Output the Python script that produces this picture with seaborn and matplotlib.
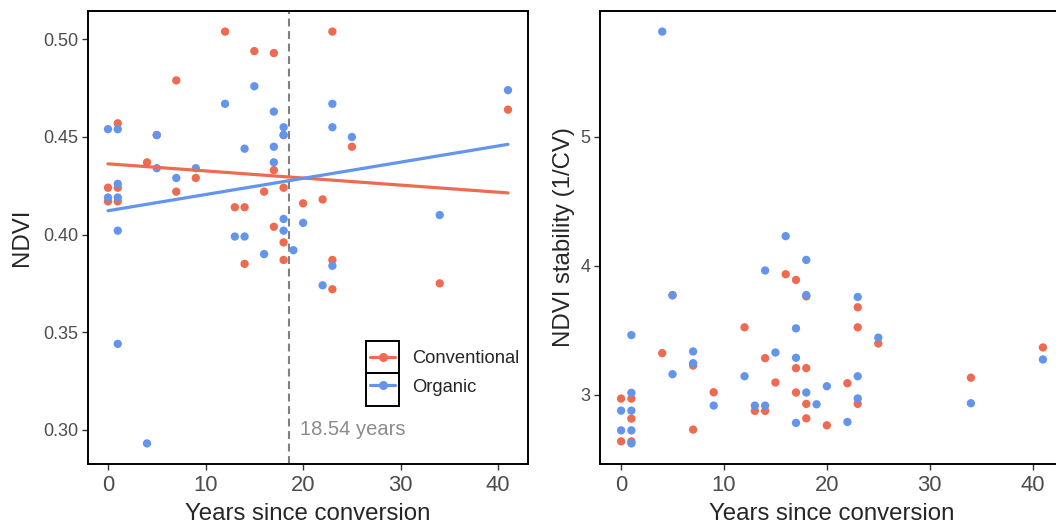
import pandas as pd
import matplotlib
matplotlib.use("Agg")
import matplotlib.pyplot as plt
from matplotlib.lines import Line2D
from matplotlib.patches import Rectangle
import seaborn as sns

GROUPS = ["Conventional", "Organic"]
PALETTE = {"Conventional": "#EE6A50", "Organic": "#6495ED"}
BREAKPOINT = 18.54

# NDVI (left panel)
conv_years = [0, 0, 1, 1, 1, 4, 5, 7, 7, 9, 12, 13, 14, 14, 15, 16, 17, 17, 17,
              18, 18, 18, 18, 20, 22, 23, 23, 23, 25, 34, 41]
conv_ndvi = [0.424, 0.417, 0.457, 0.424, 0.417, 0.437, 0.451, 0.479, 0.422, 0.429,
             0.504, 0.414, 0.414, 0.385, 0.494, 0.422, 0.493, 0.433, 0.404, 0.451,
             0.424, 0.396, 0.387, 0.416, 0.418, 0.504, 0.387, 0.372, 0.445, 0.375, 0.464]
org_years = [0, 0, 1, 1, 1, 1, 1, 4, 5, 5, 7, 9, 12, 13, 14, 14, 15, 16, 17, 17, 17,
             18, 18, 18, 18, 19, 20, 22, 23, 23, 23, 25, 34, 41]
org_ndvi = [0.454, 0.419, 0.454, 0.426, 0.419, 0.402, 0.344, 0.293, 0.451, 0.434,
            0.429, 0.434, 0.467, 0.399, 0.444, 0.399, 0.476, 0.390, 0.463, 0.445,
            0.437, 0.455, 0.451, 0.408, 0.402, 0.392, 0.406, 0.374, 0.467, 0.455,
            0.384, 0.450, 0.410, 0.474]

# NDVI stability (right panel)
conv_years_stab = [0, 0, 1, 1, 1, 4, 5, 7, 7, 9, 12, 13, 14, 14, 15, 16, 17, 17, 17,
                   18, 18, 18, 18, 20, 22, 23, 23, 23, 25, 34, 41]
conv_stab = [2.971, 2.640, 2.971, 2.816, 2.640, 3.323, 3.770, 3.227, 2.731, 3.020,
             3.523, 2.876, 3.284, 2.876, 3.096, 3.934, 3.890, 3.207, 3.018, 3.763,
             3.207, 2.930, 2.818, 2.764, 3.090, 3.678, 3.523, 2.930, 3.398, 3.133, 3.367]
org_years_stab = [0, 0, 1, 1, 1, 1, 1, 4, 5, 5, 7, 7, 9, 12, 13, 14, 14, 15, 16, 17,
                  17, 17, 18, 18, 18, 19, 20, 22, 23, 23, 23, 25, 34, 41]
org_stab = [2.878, 2.725, 3.463, 3.016, 2.878, 2.725, 2.624, 5.813, 3.773, 3.160,
            3.336, 3.245, 2.917, 3.144, 2.917, 3.963, 2.917, 3.328, 4.229, 3.515,
            3.287, 2.783, 4.045, 3.773, 3.018, 2.927, 3.067, 2.790, 3.758, 3.144,
            2.972, 3.443, 2.935, 3.274]


def make_df(cx, cy, ox, oy, col):
    conv = pd.DataFrame({"years": cx, col: cy, "system": "Conventional"})
    org = pd.DataFrame({"years": ox, col: oy, "system": "Organic"})
    return pd.concat([conv, org], ignore_index=True)


def expand(values, frac=0.05):
    lo, hi = min(values), max(values)
    pad = (hi - lo) * frac
    return lo - pad, hi + pad


def style_axes(ax):
    for sp in ax.spines.values():
        sp.set_visible(True)
        sp.set_color("black")
        sp.set_linewidth(1.4)
    ax.tick_params(axis="both", direction="out", length=4, width=1.0, color="#333333",
                   labelcolor="#4D4D4D", bottom=True, left=True)
    ax.tick_params(axis="y", labelsize=13, pad=3)
    ax.tick_params(axis="x", labelsize=15.8, pad=4)
    ax.set_xticks([0, 10, 20, 30, 40])
    ax.set_xlabel("Years since conversion", fontsize=17.3, labelpad=5)


sns.set_theme(style="white")
plt.rcParams["font.family"] = ["Liberation Sans", "DejaVu Sans"]

ndvi = make_df(conv_years, conv_ndvi, org_years, org_ndvi, "ndvi")
stab = make_df(conv_years_stab, conv_stab, org_years_stab, org_stab, "stab")

fig = plt.figure(figsize=(10.56, 5.24), dpi=100)
ax1 = fig.add_axes([88 / 1056, 60 / 524, 440 / 1056, 453 / 524])
ax2 = fig.add_axes([600 / 1056, 60 / 524, 464 / 1056, 453 / 524])

# left panel: NDVI with linear fits
ax1.axvline(BREAKPOINT, color="#808080", lw=1.5, ls=(0, (3.8, 2.2)), zorder=1)
sns.scatterplot(data=ndvi, x="years", y="ndvi", hue="system", palette=PALETTE,
                s=36, linewidth=0, legend=False, ax=ax1, zorder=2)
for g in GROUPS:
    sub = ndvi[ndvi["system"] == g]
    sns.regplot(data=sub, x="years", y="ndvi", ci=None, scatter=False, truncate=True,
                color=PALETTE[g], line_kws={"lw": 2.3, "zorder": 3}, ax=ax1)
ax1.text(BREAKPOINT + 1.15, 0.300, f"{BREAKPOINT} years", color="#8C8C8C",
         fontsize=14.5, ha="left", va="center")
ax1.set_xlim(expand(ndvi["years"]))
ax1.set_ylim(expand(ndvi["ndvi"]))
ax1.set_yticks([0.30, 0.35, 0.40, 0.45, 0.50])
ax1.set_yticklabels(["0.30", "0.35", "0.40", "0.45", "0.50"])
ax1.set_ylabel("NDVI", fontsize=17.3, labelpad=7)
style_axes(ax1)

handles = [Line2D([], [], color=PALETTE[g], lw=2.3, marker="o", markersize=6.5,
                  markeredgewidth=0) for g in GROUPS]
leg = ax1.legend(handles, GROUPS, loc="center left", bbox_to_anchor=(0.6325, 0.2005),
                 frameon=False, fontsize=13.2, handlelength=1.38, handletextpad=0.9,
                 labelspacing=0.62, borderpad=0, borderaxespad=0.2)
for i in range(2):
    ax1.add_patch(Rectangle((0.632, 0.1287 + i * 0.0718), 0.0757, 0.0718,
                            transform=ax1.transAxes, fill=False, ec="black", lw=1.4,
                            zorder=5))

# right panel: NDVI stability
sns.scatterplot(data=stab, x="years", y="stab", hue="system", palette=PALETTE,
                s=36, linewidth=0, legend=False, ax=ax2, zorder=2)
ax2.set_xlim(expand(stab["years"]))
ax2.set_ylim(expand(stab["stab"]))
ax2.set_yticks([3, 4, 5])
ax2.set_ylabel("NDVI stability (1/CV)", fontsize=17.3, labelpad=4)
style_axes(ax2)

fig.savefig("out.png", dpi=100)
